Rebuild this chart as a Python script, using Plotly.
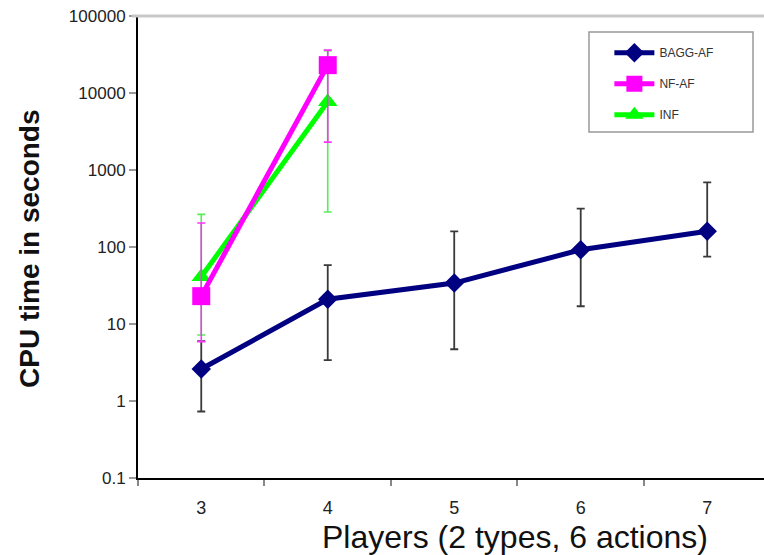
import plotly.graph_objects as go

players = [3, 4, 5, 6, 7]

bagg_x = [3, 4, 5, 6, 7]
bagg_y = [2.6, 21, 34, 92, 160]
bagg_hi = [6.0, 58, 160, 315, 690]
bagg_lo = [0.73, 3.4, 4.7, 17, 75]

nf_x = [3, 4]
nf_y = [23, 23000]
nf_hi = [205, 36000]
nf_lo = [5.9, 2300]

inf_x = [3, 4]
inf_y = [41, 7700]
inf_hi = [265, 35500]
inf_lo = [7.2, 285]

y_ticks = [0.1, 1, 10, 100, 1000, 10000, 100000]
y_ticktext = ["0.1", "1", "10", "100", "1000", "10000", "100000"]


def err(y, hi, lo, color, w):
    return dict(type="data", symmetric=False,
                array=[h - v for h, v in zip(hi, y)],
                arrayminus=[v - l for v, l in zip(y, lo)],
                color=color, thickness=w, width=4)


fig = go.Figure()
fig.add_trace(go.Scatter(
    x=bagg_x, y=bagg_y, name="BAGG-AF", mode="lines+markers",
    line=dict(color="#000080", width=5),
    marker=dict(symbol="diamond", size=15, color="#000080"),
    error_y=err(bagg_y, bagg_hi, bagg_lo, "#3a3a3a", 1.8),
    legendgroup="a", legendrank=1))
fig.add_trace(go.Scatter(
    x=inf_x, y=inf_y, name="INF", mode="lines+markers",
    line=dict(color="#00ff00", width=5),
    marker=dict(symbol="triangle-up", size=17, color="#00ff00"),
    error_y=err(inf_y, inf_hi, inf_lo, "#55ee55", 1.6),
    legendgroup="c", legendrank=3))
fig.add_trace(go.Scatter(
    x=nf_x, y=nf_y, name="NF-AF", mode="lines+markers",
    line=dict(color="#ff00ff", width=5),
    marker=dict(symbol="square", size=18, color="#ff00ff"),
    error_y=err(nf_y, nf_hi, nf_lo, "#ff33ff", 1.6),
    legendgroup="b", legendrank=2))

fig.update_layout(
    width=764, height=555,
    margin=dict(l=138, r=0, t=16, b=77),
    paper_bgcolor="white", plot_bgcolor="white",
    font=dict(family="Liberation Sans, Arial, sans-serif", color="#222"),
    showlegend=True,
    legend=dict(x=0.753, y=0.952, xanchor="left", yanchor="top",
                bgcolor="rgba(0,0,0,0)", borderwidth=0,
                font=dict(size=12, color="#333"),
                tracegroupgap=12, itemwidth=40),
    xaxis=dict(range=[2.5, 7.449], tickvals=players,
               ticktext=[str(p) for p in players],
               ticks="outside", ticklen=12, tickcolor="rgba(0,0,0,0)",
               tickfont=dict(size=18, color="#222"),
               minor=dict(tickvals=[2.5, 3.5, 4.5, 5.5, 6.5], ticks="outside",
                          ticklen=6, tickcolor="#888", tickwidth=1.5),
               showline=True, linecolor="black", linewidth=2,
               showgrid=False, zeroline=False, fixedrange=True),
    yaxis=dict(type="log", range=[-1, 5], tickvals=y_ticks,
               ticktext=y_ticktext, ticks="outside", ticklen=7,
               tickcolor="#999", tickwidth=2,
               tickfont=dict(size=17, color="#222"),
               showline=True, linecolor="black", linewidth=2,
               showgrid=False, zeroline=False),
    shapes=[
        dict(type="line", xref="paper", yref="paper", x0=-0.01, x1=1,
             y0=1, y1=1, line=dict(color="#c8c8c8", width=3)),
        dict(type="rect", xref="paper", yref="paper",
             x0=(589 - 138) / 626, x1=(753 - 138) / 626,
             y0=(478 - 132) / 462, y1=(478 - 32) / 462,
             line=dict(color="#999", width=1.5)),
    ],
    annotations=[
        dict(text="Players (2 types, 6 actions)", xref="paper", yref="paper",
             x=(515 - 138) / 626, y=(478 - 537) / 462,
             xanchor="center", yanchor="middle", showarrow=False,
             font=dict(family="Liberation Sans, Arial", size=32, color="#111")),
        dict(text="<b>CPU time in seconds</b>", xref="paper", yref="paper",
             x=(30 - 138) / 626, y=(478 - 249) / 462, textangle=-90,
             xanchor="center", yanchor="middle", showarrow=False,
             font=dict(family="Liberation Sans, Arial", size=28, color="#111")),
    ],
)

fig.write_html("out.html")
